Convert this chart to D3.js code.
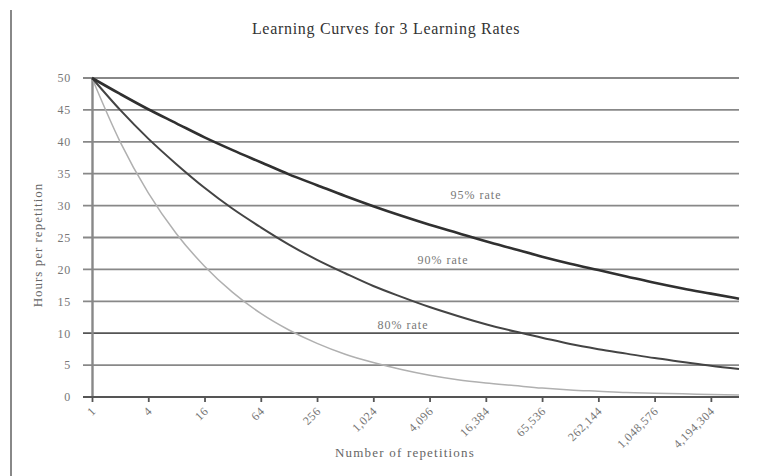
<!DOCTYPE html>
<html>
<head>
<meta charset="utf-8">
<script src="https://cdn.jsdelivr.net/npm/d3@7"></script>
<style>
  body { margin: 0; background: #fff; }
  svg { font-family: "Liberation Serif", "DejaVu Serif", serif; }
</style>
</head>
<body>
<div id="chart"></div>
<script>
// repetitions: powers of two, 2^0 .. 2^23
const reps = d3.range(0, 24).map((k) => Math.pow(2, k))
const rate95 = [50, 47.5, 45.1, 42.9, 40.7, 38.7, 36.8, 34.9, 33.2, 31.5, 29.9, 28.4, 27.0, 25.7, 24.4, 23.2, 22.0, 20.9, 19.9, 18.9, 17.9, 17.0, 16.2, 15.4]
const rate90 = [50, 45, 40.5, 36.5, 32.8, 29.5, 26.6, 23.9, 21.5, 19.4, 17.4, 15.7, 14.1, 12.7, 11.4, 10.3, 9.3, 8.3, 7.5, 6.8, 6.1, 5.5, 4.9, 4.4]
const rate80 = [50, 40, 32, 25.6, 20.5, 16.4, 13.1, 10.5, 8.4, 6.7, 5.4, 4.3, 3.4, 2.7, 2.2, 1.8, 1.4, 1.1, 0.9, 0.7, 0.6, 0.5, 0.4, 0.3]
const xTicks = [1, 4, 16, 64, 256, 1024, 4096, 16384, 65536, 262144, 1048576, 4194304]
const yTicks = d3.range(0, 51, 5)

const series = [
    { name: "80% rate", values: rate80, color: "#b0b0b0", width: 1.5, lx: 403, ly: 329 },
    { name: "90% rate", values: rate90, color: "#444444", width: 2, lx: 443, ly: 264 },
    { name: "95% rate", values: rate95, color: "#303030", width: 2.6, lx: 476, ly: 199 }
]

const serif = "Liberation Serif, DejaVu Serif, serif"
const totalWidth = 757
const totalHeight = 476
const margins = { left: 92, top: 78, right: 18, bottom: 79 }
const width = totalWidth - margins.left - margins.right
const height = totalHeight - margins.top - margins.bottom

const svg = d3.select("#chart")
    .append("svg")
    .attr("width", totalWidth)
    .attr("height", totalHeight)

// page border line on the left
svg.append("line")
    .attr("x1", 11).attr("x2", 11)
    .attr("y1", 10).attr("y2", totalHeight)
    .attr("stroke", "#888")
    .attr("stroke-width", 2)

const g = svg.append("g")
    .attr("transform", `translate(${margins.left}, ${margins.top})`)

const x = d3.scaleLog().base(2).domain([1, Math.pow(2, 23)]).range([0, width])
const y = d3.scaleLinear().domain([0, 50]).range([height, 0])

// horizontal grid (with left tick stubs)
g.append("g")
    .selectAll("line")
    .data(yTicks.filter((d) => d > 0))
    .join("line")
    .attr("x1", -9)
    .attr("x2", width)
    .attr("y1", (d) => y(d))
    .attr("y2", (d) => y(d))
    .attr("stroke", (d) => d == 10 ? "#555" : "#888")
    .attr("stroke-width", 1.8)

const yAxis = d3.axisLeft(y).tickValues(yTicks).tickSize(0).tickPadding(21)
g.append("g")
    .call(yAxis)
    .attr("font-family", serif)
    .call((s) => s.select(".domain").attr("stroke", "#888").attr("stroke-width", 2.4))
    .call((s) => s.selectAll(".tick text")
        .attr("font-size", 12)
        .attr("letter-spacing", 0.8)
        .attr("fill", "#777"))

const xAxis = d3.axisBottom(x)
    .tickValues(xTicks)
    .tickSize(5)
    .tickFormat(d3.format(","))
g.append("g")
    .attr("transform", `translate(0, ${height})`)
    .call(xAxis)
    .attr("font-family", serif)
    .call((s) => s.select(".domain").attr("stroke", "#555").attr("stroke-width", 1.8).attr("d", `M-9,0H${width}`))
    .call((s) => s.selectAll(".tick line").attr("stroke", "#555").attr("stroke-width", 1.8))
    .call((s) => s.selectAll(".tick text")
        .attr("font-size", 12)
        .attr("letter-spacing", 0.5)
        .attr("fill", "#777")
        .attr("text-anchor", "end")
        .attr("x", 0)
        .attr("y", 0)
        .attr("dy", 0)
        .attr("transform", "translate(4, 15) rotate(-45)"))

const line = d3.line()
    .x((d, i) => x(reps[i]))
    .y((d) => y(d))
    .curve(d3.curveMonotoneX)

g.selectAll(".curve")
    .data(series)
    .join("path")
    .attr("class", "curve")
    .attr("fill", "none")
    .attr("stroke", (d) => d.color)
    .attr("stroke-width", (d) => d.width)
    .attr("d", (d) => line(d.values))

svg.selectAll(".rate-label")
    .data(series)
    .join("text")
    .attr("class", "rate-label")
    .attr("x", (d) => d.lx)
    .attr("y", (d) => d.ly)
    .attr("text-anchor", "middle")
    .attr("font-size", 12)
    .attr("letter-spacing", 1)
    .attr("fill", "#777")
    .text((d) => d.name)

svg.append("text")
    .attr("x", 386)
    .attr("y", 34)
    .attr("text-anchor", "middle")
    .attr("font-size", 16)
    .attr("letter-spacing", 0.7)
    .attr("fill", "#333")
    .text("Learning Curves for 3 Learning Rates")

svg.append("text")
    .attr("x", 405)
    .attr("y", 457)
    .attr("text-anchor", "middle")
    .attr("font-size", 13)
    .attr("letter-spacing", 1.2)
    .attr("fill", "#666")
    .text("Number of repetitions")

svg.append("text")
    .attr("transform", `translate(42, 245) rotate(-90)`)
    .attr("text-anchor", "middle")
    .attr("font-size", 13)
    .attr("letter-spacing", 1)
    .attr("fill", "#666")
    .text("Hours per repetition")
</script>
</body>
</html>
